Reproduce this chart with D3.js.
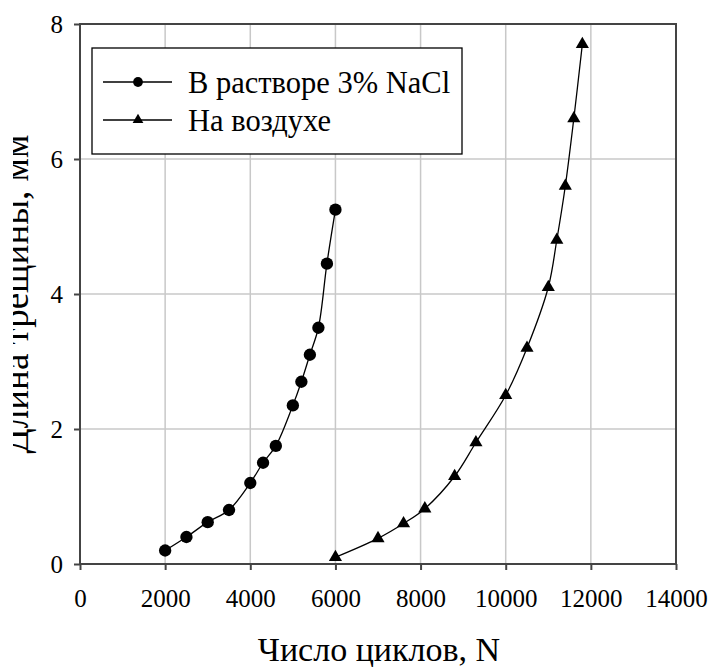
<!DOCTYPE html>
<html lang="ru">
<head>
<meta charset="UTF-8">
<title>Длина трещины</title>
<script src="https://d3js.org/d3.v7.min.js"></script>
<style>
  body { margin: 0; background: #fff; }
  svg text { font-family: 'Liberation Serif'; fill: #000; }
</style>
</head>
<body>
<svg id="chart" width="709" height="667"></svg>
<script>
// data
const nacl_N = [2000, 2500, 3000, 3500, 4000, 4300, 4600, 5000, 5200, 5400, 5600, 5800, 6000];
const nacl_L = [0.2, 0.4, 0.62, 0.8, 1.2, 1.5, 1.75, 2.35, 2.7, 3.1, 3.5, 4.45, 5.25];
const air_N = [6000, 7000, 7600, 8100, 8800, 9300, 10000, 10500, 11000, 11200, 11400, 11600, 11800];
const air_L = [0.1, 0.38, 0.6, 0.82, 1.3, 1.8, 2.5, 3.2, 4.1, 4.8, 5.6, 6.6, 7.7];
const xTicks = [0, 2000, 4000, 6000, 8000, 10000, 12000, 14000];
const yTicks = [0, 2, 4, 6, 8];
const seriesNames = ["В растворе 3% NaCl", "На воздухе"];

const serif = "'Liberation Serif'";
const svg = d3.select("#chart");
const plotL = 80, plotR = 676, plotT = 24, plotB = 564;

const x = d3.scaleLinear().domain([0, 14000]).range([plotL, plotR]);
const y = d3.scaleLinear().domain([0, 8]).range([plotB, plotT]);

// grid
svg.append("g").selectAll("line")
    .data(xTicks.slice(1, -1))
    .join("line")
    .attr("x1", d => x(d)).attr("x2", d => x(d))
    .attr("y1", plotT).attr("y2", plotB)
    .attr("stroke", "#c8c8c8").attr("stroke-width", 1.5);
svg.append("g").selectAll("line")
    .data(yTicks.slice(1, -1))
    .join("line")
    .attr("x1", plotL).attr("x2", plotR)
    .attr("y1", d => y(d)).attr("y2", d => y(d))
    .attr("stroke", "#c8c8c8").attr("stroke-width", 1.5);

// frame
svg.append("rect")
    .attr("x", plotL).attr("y", plotT)
    .attr("width", plotR - plotL).attr("height", plotB - plotT)
    .attr("fill", "none").attr("stroke", "#444").attr("stroke-width", 2);

// axes
const xAxis = svg.append("g")
    .attr("transform", `translate(0,${plotB})`)
    .call(d3.axisBottom(x).tickValues(xTicks).tickFormat(d3.format("d")).tickSize(6));
const yAxis = svg.append("g")
    .attr("transform", `translate(${plotL},0)`)
    .call(d3.axisLeft(y).tickValues(yTicks).tickSize(6).tickPadding(11));
[xAxis, yAxis].forEach(a => {
    a.attr("font-family", serif).attr("font-size", 25);
    a.select(".domain").remove();
    a.selectAll(".tick line").attr("stroke", "#444").attr("stroke-width", 2);
    a.selectAll("text").attr("fill", "#000");
});
xAxis.selectAll("text").attr("dy", null).attr("y", 43);

// lines
const line = d3.line()
    .x(d => x(d[0]))
    .y(d => y(d[1]))
    .curve(d3.curveCatmullRom.alpha(0.5));

const nacl = nacl_N.map((n, i) => [n, nacl_L[i]]);
const air = air_N.map((n, i) => [n, air_L[i]]);

svg.append("path").datum(nacl).attr("d", line)
    .attr("fill", "none").attr("stroke", "#000").attr("stroke-width", 1.3);
svg.append("path").datum(air).attr("d", line)
    .attr("fill", "none").attr("stroke", "#000").attr("stroke-width", 1.3);

const circleSym = d3.symbol().type(d3.symbolCircle);
const triSym = d3.symbol().type(d3.symbolTriangle);

svg.append("g").selectAll("path")
    .data(nacl)
    .join("path")
    .attr("transform", d => `translate(${x(d[0])},${y(d[1])})`)
    .attr("d", circleSym.size(120)());
svg.append("g").selectAll("path")
    .data(air)
    .join("path")
    .attr("transform", d => `translate(${x(d[0])},${y(d[1])})`)
    .attr("d", triSym.size(75)());

// legend
const lg = svg.append("g").attr("font-family", serif);
lg.append("rect")
    .attr("x", 92).attr("y", 48).attr("width", 370).attr("height", 106)
    .attr("fill", "#fff").attr("stroke", "#000").attr("stroke-width", 1.3);
const rows = [82, 120];
rows.forEach((ry, i) => {
    lg.append("line").attr("x1", 103).attr("x2", 172).attr("y1", ry).attr("y2", ry)
        .attr("stroke", "#000").attr("stroke-width", 1.3);
    lg.append("path")
        .attr("transform", `translate(138,${ry})`)
        .attr("d", (i === 0 ? circleSym.size(75) : triSym.size(50))());
    lg.append("text")
        .attr("x", 188).attr("y", ry + 11)
        .attr("font-size", 30.5)
        .text(seriesNames[i]);
});

// axis titles
svg.append("text")
    .attr("x", (plotL + plotR) / 2 + 1).attr("y", 661)
    .attr("text-anchor", "middle")
    .attr("font-family", serif)
    .attr("font-size", 34)
    .text("Число циклов, N");

// the left part of the y title is cut off in the original
svg.append("clipPath").attr("id", "ycut")
    .append("rect").attr("x", 13).attr("y", 0).attr("width", 60).attr("height", 667);
svg.append("g").attr("clip-path", "url(#ycut)")
    .append("text")
    .attr("transform", `translate(28,${(plotT + plotB) / 2}) rotate(-90)`)
    .attr("text-anchor", "middle")
    .attr("font-family", serif)
    .attr("font-size", 37)
    .text("Длина трещины, мм");
</script>
</body>
</html>
